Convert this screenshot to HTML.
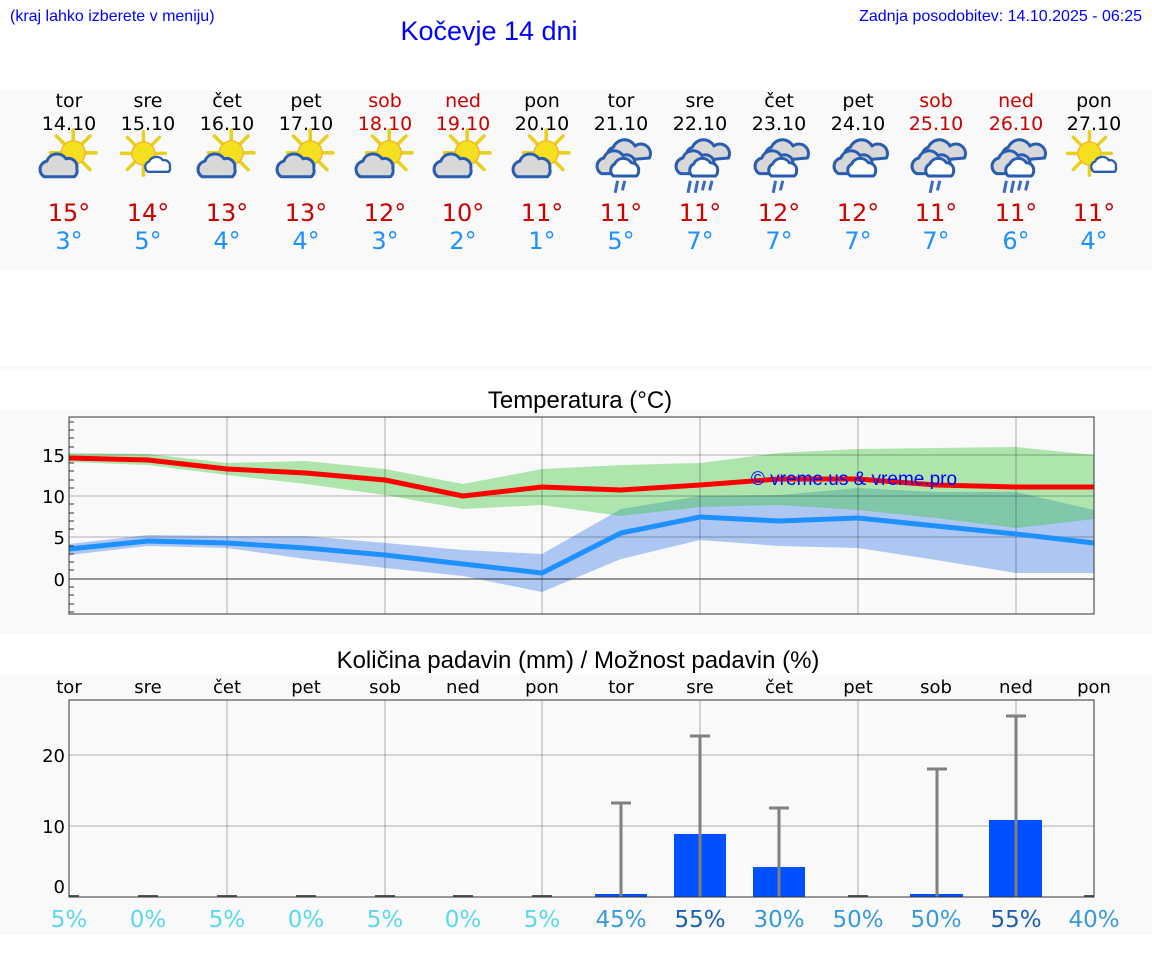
<!DOCTYPE html>
<html><head><meta charset="utf-8"><style>
html,body{margin:0;padding:0;background:#fff;width:1152px;height:975px;overflow:hidden}
svg{display:block}
.d{font-family:"DejaVu Sans",sans-serif}
.l{font-family:"Liberation Sans",sans-serif}
</style></head><body>
<svg width="1152" height="975" viewBox="0 0 1152 975" xmlns="http://www.w3.org/2000/svg">
<defs>
<g id="sun">
 <g stroke="#e8d020" stroke-width="3" stroke-linecap="round">
  <line x1="0" y1="-11" x2="0" y2="-19"/><line x1="0" y1="11" x2="0" y2="19"/>
  <line x1="-11" y1="0" x2="-19" y2="0"/><line x1="11" y1="0" x2="19" y2="0"/>
  <line x1="8" y1="8" x2="14" y2="14"/><line x1="-8" y1="-8" x2="-14" y2="-14"/>
  <line x1="8" y1="-8" x2="14" y2="-14"/><line x1="-8" y1="8" x2="-14" y2="14"/>
 </g>
 <circle r="10" fill="#f5e020" stroke="#f0b020" stroke-width="1"/>
</g>
<g id="cloudG">
 <path d="M-14,8 a7,7 0 0 1 2,-13 a9,9 0 0 1 16,-2 a7,7 0 0 1 9,8 a7,7 0 0 1 -2,7 z" fill="#d8d8d8" stroke="#2a5db0" stroke-width="2.5" stroke-linejoin="round"/>
</g>
<g id="cloudW">
 <path d="M-10,6 a5,5 0 0 1 1,-9 a7,7 0 0 1 12,-1 a5,5 0 0 1 6,6 a4,4 0 0 1 -1,4 z" fill="#fff" stroke="#2a5db0" stroke-width="2" stroke-linejoin="round"/>
</g>
<g id="pc"><use href="#sun" x="6" y="-6"/><use href="#cloudG" x="-4" y="6" transform="scale(1)"/></g>
<g id="ps"><use href="#sun" x="-4" y="-4"/><use href="#cloudW" x="10" y="6"/></g>
<g id="rc">
 <path d="M-12,-2 a8,8 0 0 1 4,-12 a10,10 0 0 1 18,-1 a8,8 0 0 1 12,10 z" fill="#d8d8d8" stroke="#2a5db0" stroke-width="2.5" stroke-linejoin="round"/>
 <path d="M-18,8 a7,7 0 0 1 2,-13 a9,9 0 0 1 16,-2 a7,7 0 0 1 10,6 a7,7 0 0 1 -2,9 z" fill="#d8d8d8" stroke="#2a5db0" stroke-width="2.5" stroke-linejoin="round"/>
 <path d="M-8,10 a6,6 0 0 1 1,-10 a8,8 0 0 1 14,-1 a6,6 0 0 1 6,7 a5,5 0 0 1 -2,4 z" fill="#fff" stroke="#2a5db0" stroke-width="2.5" stroke-linejoin="round"/>
</g>
<g id="r2" stroke="#3a6bc0" stroke-width="2.5"><line x1="-2" y1="14" x2="-4" y2="24"/><line x1="4" y1="14" x2="2" y2="22"/></g>
<g id="r4" stroke="#3a6bc0" stroke-width="2.5"><line x1="-8" y1="14" x2="-10" y2="24"/><line x1="-2" y1="14" x2="-4" y2="24"/><line x1="4" y1="14" x2="2" y2="22"/><line x1="10" y1="14" x2="8" y2="22"/></g>
<g id="PC"><use href="#pc" transform="scale(1.2)"/></g>
<g id="PS"><use href="#ps" transform="scale(1.15)"/></g>
<g id="RC"><use href="#rc" transform="scale(1.2)"/></g>
<g id="R2"><use href="#r2" transform="scale(1.2)"/></g>
<g id="R4"><use href="#r4" transform="scale(1.2)"/></g>
</defs>

<!-- header -->
<text x="10" y="21" class="l" font-size="16" fill="#0000ff">(kraj lahko izberete v meniju)</text>
<text x="489" y="40" class="l" font-size="27" fill="#0000ff" text-anchor="middle">Kočevje 14 dni</text>
<text x="1142" y="21" class="l" font-size="16" fill="#0000ff" text-anchor="end">Zadnja posodobitev: 14.10.2025 - 06:25</text>

<!-- top panel -->
<rect x="0" y="90" width="1152" height="180" fill="#f9f9f9"/>
<rect x="0" y="365" width="1152" height="5" fill="#f9f9f9"/>
<g class="d" font-size="19" text-anchor="middle">
<g fill="#000">
<text x="69" y="107">tor</text><text x="69" y="130">14.10</text>
<text x="148" y="107">sre</text><text x="148" y="130">15.10</text>
<text x="227" y="107">čet</text><text x="227" y="130">16.10</text>
<text x="306" y="107">pet</text><text x="306" y="130">17.10</text>
<text x="542" y="107">pon</text><text x="542" y="130">20.10</text>
<text x="621" y="107">tor</text><text x="621" y="130">21.10</text>
<text x="700" y="107">sre</text><text x="700" y="130">22.10</text>
<text x="779" y="107">čet</text><text x="779" y="130">23.10</text>
<text x="858" y="107">pet</text><text x="858" y="130">24.10</text>
<text x="1094" y="107">pon</text><text x="1094" y="130">27.10</text>
</g>
<g fill="#cc0000">
<text x="385" y="107">sob</text><text x="385" y="130">18.10</text>
<text x="463" y="107">ned</text><text x="463" y="130">19.10</text>
<text x="936" y="107">sob</text><text x="936" y="130">25.10</text>
<text x="1016" y="107">ned</text><text x="1016" y="130">26.10</text>
</g>
</g>
<!-- icons -->
<use href="#PC" x="66" y="160"/><use href="#PS" x="148" y="158"/><use href="#PC" x="224" y="160"/><use href="#PC" x="303" y="160"/>
<use href="#PC" x="382" y="160"/><use href="#PC" x="460" y="160"/><use href="#PC" x="539" y="160"/>
<use href="#RC" x="623" y="164"/><use href="#R2" x="620" y="164"/>
<use href="#RC" x="702" y="164"/><use href="#R4" x="700" y="164"/>
<use href="#RC" x="781" y="164"/><use href="#R2" x="778" y="164"/>
<use href="#RC" x="860" y="164"/>
<use href="#RC" x="938" y="164"/><use href="#R2" x="935" y="164"/>
<use href="#RC" x="1018" y="164"/><use href="#R4" x="1016" y="164"/>
<use href="#PS" x="1094" y="158"/>

<g class="d" font-size="24" text-anchor="middle" fill="#cc0000">
<text x="69" y="221">15°</text><text x="148" y="221">14°</text><text x="227" y="221">13°</text><text x="306" y="221">13°</text><text x="385" y="221">12°</text><text x="463" y="221">10°</text><text x="542" y="221">11°</text><text x="621" y="221">11°</text><text x="700" y="221">11°</text><text x="779" y="221">12°</text><text x="858" y="221">12°</text><text x="936" y="221">11°</text><text x="1016" y="221">11°</text><text x="1094" y="221">11°</text>
</g>
<g class="d" font-size="24" text-anchor="middle" fill="#1e90ff">
<text x="69" y="249">3°</text><text x="148" y="249">5°</text><text x="227" y="249">4°</text><text x="306" y="249">4°</text><text x="385" y="249">3°</text><text x="463" y="249">2°</text><text x="542" y="249">1°</text><text x="621" y="249">5°</text><text x="700" y="249">7°</text><text x="779" y="249">7°</text><text x="858" y="249">7°</text><text x="936" y="249">7°</text><text x="1016" y="249">6°</text><text x="1094" y="249">4°</text>
</g>

<!-- temperature -->
<rect x="0" y="410" width="1152" height="225" fill="#f9f9f9"/>
<text x="580" y="408" class="l" font-size="24" text-anchor="middle" fill="#000">Temperatura (°C)</text>
<rect x="69" y="417" width="1025" height="197" fill="#f9f9f9"/>
<polygon fill="#aec6f2" points="69,544 148,535 227,536 306,536 385,543 463,550 542,554 621,509 700,496 779,495 858,488 936,492 1016,492 1094,510 1094,573 1016,573 936,560 858,548 779,546 700,540 621,559 542,592 463,576 385,568 306,559 227,548 148,546 69,555"/>
<polygon fill="rgb(60,200,60)" fill-opacity="0.4" points="69,453 148,454 227,463 306,461 385,469 463,484 542,469 621,465 700,463 779,453 858,449 936,448 1016,447 1094,455 1094,519 1016,528 936,518 858,510 779,505 700,507 621,516 542,505 463,509 385,495 306,484 227,475 148,465 69,462"/>
<g stroke="#000" stroke-opacity="0.15" stroke-width="2">
<line x1="69" y1="455" x2="1094" y2="455"/><line x1="69" y1="496" x2="1094" y2="496"/><line x1="69" y1="537" x2="1094" y2="537"/>
<line x1="227" y1="417" x2="227" y2="614"/><line x1="385" y1="417" x2="385" y2="614"/><line x1="542" y1="417" x2="542" y2="614"/><line x1="700" y1="417" x2="700" y2="614"/><line x1="858" y1="417" x2="858" y2="614"/><line x1="1016" y1="417" x2="1016" y2="614"/>
</g>
<line x1="69" y1="579" x2="1094" y2="579" stroke="#333" stroke-width="1"/>
<polyline fill="none" stroke="#ff0000" stroke-width="5" stroke-linejoin="round" points="69,458 148,460 227,469 306,473 385,480 463,496 542,487 621,490 700,485 779,479 858,479 936,485 1016,487 1094,487"/>
<polyline fill="none" stroke="#1e90ff" stroke-width="5" stroke-linejoin="round" points="69,549 148,541 227,543 306,548 385,555 463,564 542,573 621,533 700,517 779,521 858,518 936,526 1016,534 1094,543"/>
<text x="854" y="485" class="l" font-size="19" fill="#0000ff" text-anchor="middle">© vreme.us &amp; vreme.pro</text>
<rect x="69" y="417" width="1025" height="197" fill="none" stroke="#333" stroke-width="1"/>
<g stroke="#333" stroke-width="1">
<line x1="69" y1="422" x2="74" y2="422"/><line x1="69" y1="430" x2="74" y2="430"/><line x1="69" y1="438" x2="74" y2="438"/><line x1="69" y1="447" x2="74" y2="447"/><line x1="69" y1="463" x2="74" y2="463"/><line x1="69" y1="471" x2="74" y2="471"/><line x1="69" y1="480" x2="74" y2="480"/><line x1="69" y1="488" x2="74" y2="488"/><line x1="69" y1="504" x2="74" y2="504"/><line x1="69" y1="513" x2="74" y2="513"/><line x1="69" y1="521" x2="74" y2="521"/><line x1="69" y1="529" x2="74" y2="529"/><line x1="69" y1="546" x2="74" y2="546"/><line x1="69" y1="554" x2="74" y2="554"/><line x1="69" y1="562" x2="74" y2="562"/><line x1="69" y1="570" x2="74" y2="570"/><line x1="69" y1="587" x2="74" y2="587"/><line x1="69" y1="595" x2="74" y2="595"/><line x1="69" y1="604" x2="74" y2="604"/><line x1="69" y1="612" x2="74" y2="612"/>
</g>
<g class="d" font-size="18" fill="#000" text-anchor="end">
<text x="65" y="462">15</text><text x="65" y="503">10</text><text x="65" y="544">5</text><text x="65" y="586">0</text>
</g>

<!-- precipitation -->
<text x="578" y="668" class="l" font-size="24" text-anchor="middle" fill="#000">Količina padavin (mm) / Možnost padavin (%)</text>
<rect x="0" y="675" width="1152" height="260" fill="#f9f9f9"/>
<g class="d" font-size="18" text-anchor="middle" fill="#000">
<text x="69" y="693">tor</text><text x="148" y="693">sre</text><text x="227" y="693">čet</text><text x="306" y="693">pet</text><text x="385" y="693">sob</text><text x="463" y="693">ned</text><text x="542" y="693">pon</text><text x="621" y="693">tor</text><text x="700" y="693">sre</text><text x="779" y="693">čet</text><text x="858" y="693">pet</text><text x="936" y="693">sob</text><text x="1016" y="693">ned</text><text x="1094" y="693">pon</text>
</g>
<g stroke="#000" stroke-opacity="0.15" stroke-width="2">
<line x1="69" y1="755" x2="1094" y2="755"/><line x1="69" y1="826" x2="1094" y2="826"/>
<line x1="227" y1="700" x2="227" y2="897"/><line x1="385" y1="700" x2="385" y2="897"/><line x1="542" y1="700" x2="542" y2="897"/><line x1="700" y1="700" x2="700" y2="897"/><line x1="858" y1="700" x2="858" y2="897"/><line x1="1016" y1="700" x2="1016" y2="897"/>
</g>
<g fill="#0050ff">
<rect x="595" y="894" width="52" height="3"/><rect x="674" y="834" width="52" height="63"/><rect x="753" y="867" width="52" height="30"/><rect x="910" y="894" width="53" height="3"/><rect x="989" y="820" width="53" height="77"/>
</g>
<g stroke="#808080" stroke-width="3">
<line x1="621" y1="803" x2="621" y2="897"/><line x1="611" y1="803" x2="631" y2="803"/>
<line x1="700" y1="736" x2="700" y2="897"/><line x1="690" y1="736" x2="710" y2="736"/>
<line x1="779" y1="808" x2="779" y2="897"/><line x1="769" y1="808" x2="789" y2="808"/>
<line x1="937" y1="769" x2="937" y2="897"/><line x1="927" y1="769" x2="947" y2="769"/>
<line x1="1016" y1="716" x2="1016" y2="897"/><line x1="1006" y1="716" x2="1026" y2="716"/>
</g>
<g stroke="#555" stroke-width="2">
<line x1="69" y1="896" x2="79" y2="896"/><line x1="138" y1="896" x2="158" y2="896"/><line x1="217" y1="896" x2="237" y2="896"/><line x1="296" y1="896" x2="316" y2="896"/><line x1="375" y1="896" x2="395" y2="896"/><line x1="453" y1="896" x2="473" y2="896"/><line x1="532" y1="896" x2="552" y2="896"/><line x1="848" y1="896" x2="868" y2="896"/><line x1="1084" y1="896" x2="1094" y2="896"/>
</g>
<rect x="69" y="700" width="1025" height="197" fill="none" stroke="#333" stroke-width="1"/>
<g class="d" font-size="18" fill="#000" text-anchor="end">
<text x="65" y="762">20</text><text x="65" y="833">10</text><text x="65" y="893">0</text>
</g>
<g class="d" font-size="23" text-anchor="middle">
<g fill="#5ad8ec"><text x="69" y="927">5%</text><text x="148" y="927">0%</text><text x="227" y="927">5%</text><text x="306" y="927">0%</text><text x="385" y="927">5%</text><text x="463" y="927">0%</text><text x="542" y="927">5%</text></g>
<g fill="#3a9ad8"><text x="621" y="927">45%</text><text x="779" y="927">30%</text><text x="858" y="927">50%</text><text x="936" y="927">50%</text><text x="1094" y="927">40%</text></g>
<g fill="#1a5fb4"><text x="700" y="927">55%</text><text x="1016" y="927">55%</text></g>
</g>
</svg>
</body></html>
